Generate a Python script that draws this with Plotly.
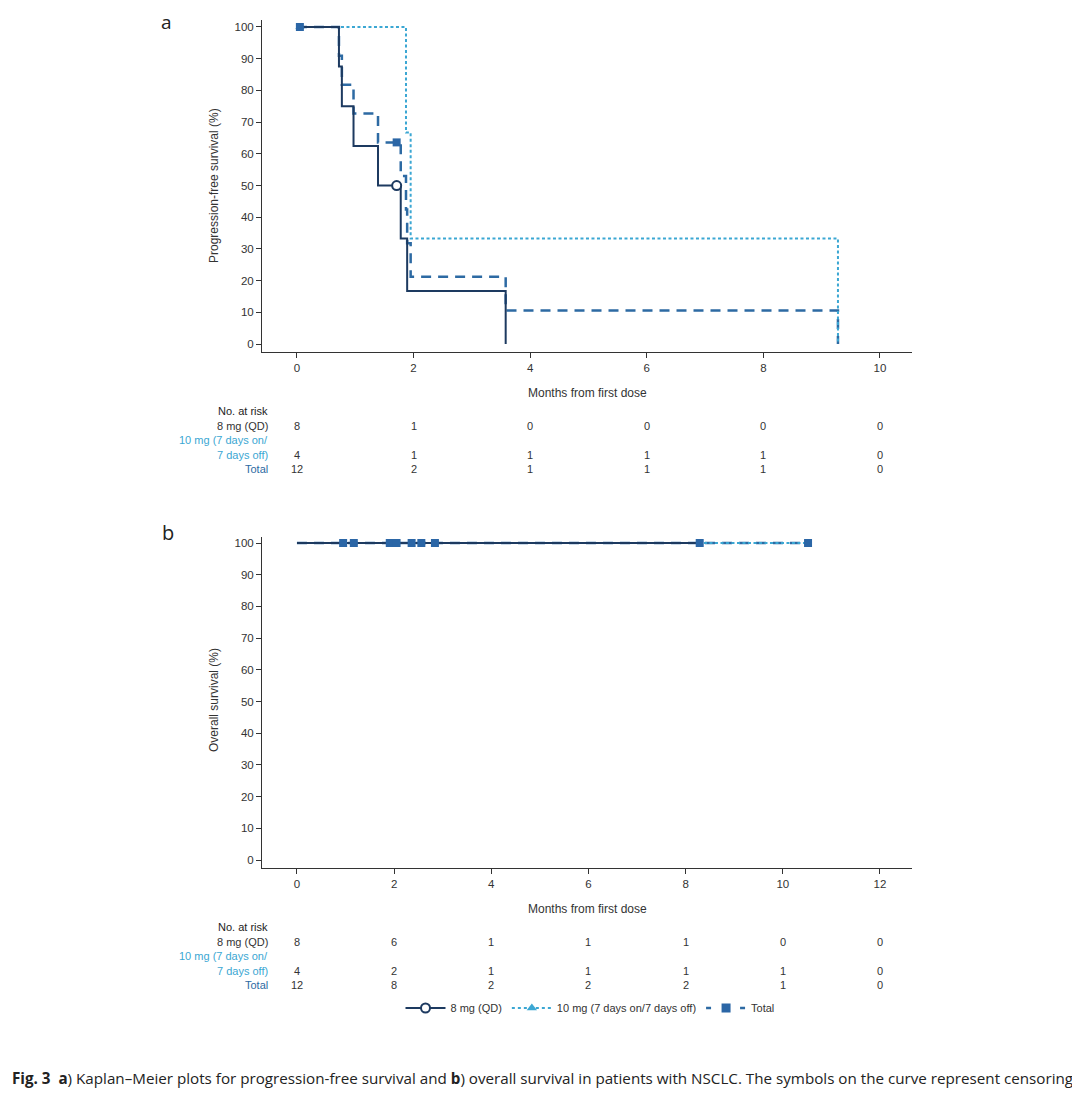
import plotly.graph_objects as go

# Page body has an 8px margin, so the figure is drawn at (8, 8)
OFF = 8
W, H = 1080 - OFF, 1094 - OFF

# ---------------- Data ----------------
# Panel a: progression-free survival (step curves)
pfs_8mg_t = [0, 0.72, 0.77, 0.97, 1.39, 1.78, 1.89, 3.58]
pfs_8mg_s = [100, 87.5, 75, 62.5, 50, 33.3, 16.7, 0]
pfs_10mg_t = [0, 1.87, 1.95, 9.28]
pfs_10mg_s = [100, 66.7, 33.3, 0]
pfs_total_t = [0, 0.72, 0.77, 0.97, 1.39, 1.78, 1.87, 1.89, 1.95, 3.58, 9.28]
pfs_total_s = [100, 90.9, 81.8, 72.7, 63.6, 53.0, 42.4, 31.8, 21.2, 10.6, 0]
pfs_8mg_cens_t = [1.71]
pfs_8mg_cens_s = [50]
pfs_10mg_cens_t = [0.05]
pfs_10mg_cens_s = [100]
pfs_total_cens_t = [0.05, 1.71]
pfs_total_cens_s = [100, 63.6]

# Panel b: overall survival
os_8mg_t = [0, 8.29]
os_8mg_s = [100, 100]
os_10mg_t = [0, 10.52]
os_10mg_s = [100, 100]
os_total_t = [0, 10.52]
os_total_s = [100, 100]
os_total_cens_t = [0.95, 1.17, 1.91, 2.05, 2.36, 2.56, 2.84, 8.29, 10.52]
os_total_cens_s = [100, 100, 100, 100, 100, 100, 100, 100, 100]

# Number at risk
risk_a_x = [0, 2, 4, 6, 8, 10]
risk_a_8mg = [8, 1, 0, 0, 0, 0]
risk_a_10mg = [4, 1, 1, 1, 1, 0]
risk_a_total = [12, 2, 1, 1, 1, 0]
risk_b_x = [0, 2, 4, 6, 8, 10, 12]
risk_b_8mg = [8, 6, 1, 1, 1, 0, 0]
risk_b_10mg = [4, 2, 1, 1, 1, 1, 0]
risk_b_total = [12, 8, 2, 2, 2, 1, 0]

y_ticks = [0, 10, 20, 30, 40, 50, 60, 70, 80, 90, 100]
x_ticks_a = [0, 2, 4, 6, 8, 10]
x_ticks_b = [0, 2, 4, 6, 8, 10, 12]

# ---------------- Styles ----------------
C_8 = "#1d3a60"
C_10 = "#3ba7d3"
C_TOT = "#2d6aa3"
C_SQ = "#2b66a6"
AX = "#333333"
FONT = "Liberation Sans, Arial, sans-serif"


def py(px):
    return 1 - (px - OFF) / H


def pxx(px):
    return (px - OFF) / W


fig = go.Figure()


def step(x, y, color, dash, width, xa, ya, name, show=False):
    fig.add_trace(go.Scatter(x=x, y=y, mode="lines", line_shape="hv",
                             line=dict(color=color, dash=dash, width=width),
                             xaxis=xa, yaxis=ya, name=name, showlegend=show,
                             hoverinfo="skip"))


def cens(x, y, symbol, size, fill, lcolor, lw, xa, ya, name):
    fig.add_trace(go.Scatter(x=x, y=y, mode="markers",
                             marker=dict(symbol=symbol, size=size, color=fill,
                                         line=dict(color=lcolor, width=lw)),
                             xaxis=xa, yaxis=ya, name=name, showlegend=False,
                             hoverinfo="skip"))


DASH_TOT = "10px,7px"
DASH_10 = "3px,2.5px"

# Panel a
step(pfs_total_t, pfs_total_s, C_TOT, DASH_TOT, 2.5, "x", "y", "Total")
step(pfs_10mg_t, pfs_10mg_s, C_10, DASH_10, 2, "x", "y", "10 mg")
step(pfs_8mg_t, pfs_8mg_s, C_8, "solid", 2, "x", "y", "8 mg")
cens(pfs_10mg_cens_t, pfs_10mg_cens_s, "triangle-up", 8, C_10, C_10, 0, "x", "y", "10 mg")
cens(pfs_total_cens_t, pfs_total_cens_s, "square", 8, C_SQ, C_SQ, 0, "x", "y", "Total")
cens(pfs_8mg_cens_t, pfs_8mg_cens_s, "circle", 9, "white", C_8, 2, "x", "y", "8 mg")

# Panel b
step(os_total_t, os_total_s, C_TOT, DASH_TOT, 2.5, "x2", "y2", "Total")
step(os_10mg_t, os_10mg_s, C_10, DASH_10, 2, "x2", "y2", "10 mg")
step(os_8mg_t, os_8mg_s, C_8, "solid", 2, "x2", "y2", "8 mg")
cens(os_total_cens_t, os_total_cens_s, "square", 8, C_SQ, C_SQ, 0, "x2", "y2", "Total")

# Legend entries
fig.add_trace(go.Scatter(x=[None], y=[None], mode="lines+markers", name="8 mg (QD)",
                         line=dict(color=C_8, width=2),
                         marker=dict(symbol="circle", size=9, color="white",
                                     line=dict(color=C_8, width=2))))
fig.add_trace(go.Scatter(x=[None], y=[None], mode="lines+markers",
                         name="10 mg (7 days on/7 days off)",
                         line=dict(color=C_10, width=2, dash="3px,3px"),
                         marker=dict(symbol="triangle-up", size=9, color=C_10)))
fig.add_trace(go.Scatter(x=[None], y=[None], mode="lines+markers", name="Total",
                         line=dict(color=C_TOT, width=2.5, dash="5px,12px"),
                         marker=dict(symbol="square", size=9, color=C_SQ)))

xdom = [pxx(262), pxx(912)]
ax_common = dict(showline=True, linecolor=AX, linewidth=1, ticks="outside",
                 ticklen=5, tickcolor=AX, showgrid=False, zeroline=False,
                 tickfont=dict(family=FONT, size=11.5, color=AX))

fig.update_layout(
    width=W, height=H, margin=dict(l=0, r=0, t=0, b=0),
    paper_bgcolor="white", plot_bgcolor="white",
    font=dict(family=FONT, size=11, color=AX),
    xaxis=dict(domain=xdom, range=[-0.6, 10.55], tickvals=x_ticks_a,
               anchor="y", **ax_common),
    yaxis=dict(domain=[py(352), py(20)], range=[-2.5, 102.2], tickvals=y_ticks,
               anchor="x", **ax_common),
    xaxis2=dict(domain=xdom, range=[-0.72, 12.66], tickvals=x_ticks_b,
                anchor="y2", **ax_common),
    yaxis2=dict(domain=[py(868), py(537)], range=[-2.5, 101.9], tickvals=y_ticks,
                anchor="x2", **ax_common),
    showlegend=True,
    legend=dict(orientation="h", x=pxx(590), xanchor="center", y=py(1008),
                yanchor="middle", font=dict(family=FONT, size=11, color=AX),
                bgcolor="rgba(0,0,0,0)", itemwidth=40, traceorder="normal"),
)

ann = []
# Panel letters
ann.append(dict(text="a", x=pxx(160), y=1, xref="paper", yref="paper",
                xanchor="left", yanchor="top", showarrow=False, borderpad=0,
                font=dict(family="Open Sans, sans-serif", size=19, color="#222")))
ann.append(dict(text="b", x=pxx(160), y=py(533), xref="paper", yref="paper",
                xanchor="left", yanchor="middle", showarrow=False,
                font=dict(family="Open Sans, sans-serif", size=20, color="#222")))
# Axis titles
for ytxt, ycen, xt in [("Progression-free survival (%)", 186, 393),
                       ("Overall survival (%)", 700, 909)]:
    ann.append(dict(text=ytxt, x=pxx(214), y=py(ycen), xref="paper", yref="paper",
                    textangle=-90, showarrow=False, xanchor="center", yanchor="middle",
                    font=dict(family=FONT, size=12, color=AX)))
    ann.append(dict(text="Months from first dose", x=pxx(587), y=py(xt),
                    xref="paper", yref="paper", showarrow=False,
                    xanchor="center", yanchor="middle",
                    font=dict(family=FONT, size=12, color=AX)))


def risk_table(xref, xs, r8, r10, rt, y0):
    rows = [("No. at risk", "#222", y0),
            ("8 mg (QD)", "#333", y0 + 15),
            ("10 mg (7 days on/", C_10, y0 + 29),
            ("7 days off)", C_10, y0 + 44),
            ("Total", C_TOT, y0 + 58)]
    for txt, col, yy in rows:
        ann.append(dict(text=txt, x=pxx(270), y=py(yy), xref="paper", yref="paper",
                        xanchor="right", yanchor="middle", showarrow=False,
                        font=dict(family=FONT, size=11, color=col)))
    for vals, yy in [(r8, y0 + 15), (r10, y0 + 44), (rt, y0 + 58)]:
        for xv, v in zip(xs, vals):
            ann.append(dict(text=str(v), x=xv, y=py(yy), xref=xref, yref="paper",
                            xanchor="center", yanchor="middle", showarrow=False,
                            font=dict(family=FONT, size=11, color=AX)))


risk_table("x", risk_a_x, risk_a_8mg, risk_a_10mg, risk_a_total, 411)
risk_table("x2", risk_b_x, risk_b_8mg, risk_b_10mg, risk_b_total, 927)

caption = ("<b>Fig. 3</b>  <b>a</b>) Kaplan–Meier plots for progression-free survival and "
           "<b>b</b>) overall survival in patients with NSCLC. The symbols on the curve "
           "represent censoring")
ann.append(dict(text=caption, x=pxx(10), y=py(1078), xref="paper", yref="paper",
                xanchor="left", yanchor="middle", showarrow=False,
                font=dict(family="Open Sans, sans-serif", size=15.2, color="#222")))

fig.update_layout(annotations=ann)
fig.write_html("out.html")
